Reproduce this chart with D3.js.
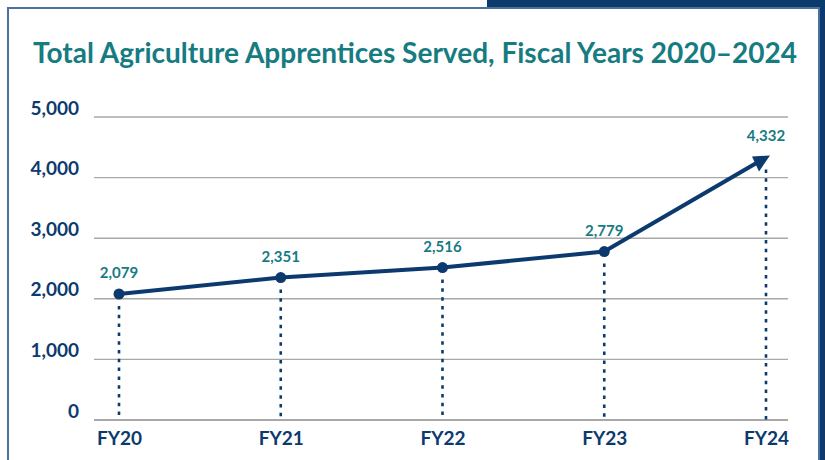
<!DOCTYPE html>
<html>
<head>
<meta charset="utf-8">
<script src="https://cdn.jsdelivr.net/npm/d3@7"></script>
<style>
  body { margin: 0; background: #fff; }
  text { font-family: "Source Sans Pro", Lato, "Noto Sans", sans-serif; }
</style>
</head>
<body>
<div id="chart"></div>
<script>
// data
var years = ["FY20", "FY21", "FY22", "FY23", "FY24"];
var apprentices = [2079, 2351, 2516, 2779, 4332];
var yTicks = [0, 1000, 2000, 3000, 4000, 5000];
var title = "Total Agriculture Apprentices Served, Fiscal Years 2020\u20132024";

const width = 825;
const height = 460;
var navy = "#0c3a6e";
var teal = "#177b82";
var gridColor = "#a8a8a8";

var svg = d3.select("#chart").append("svg")
  .attr("width", width)
  .attr("height", height);

/* frame */
svg.append("rect")
  .attr("x", 487).attr("y", 0)
  .attr("width", width - 487).attr("height", height)
  .attr("fill", "#0d3a6d");

svg.append("rect")
  .attr("x", 8).attr("y", 8)
  .attr("width", 811).attr("height", 470)
  .attr("fill", "#fff")
  .attr("stroke", "#4b719e")
  .attr("stroke-width", 2);

/* title, squeezed to the width it takes in the original */
var titleText = svg.append("text")
  .attr("x", 415)
  .attr("y", 63)
  .attr("text-anchor", "middle")
  .attr("fill", teal)
  .style("font-weight", 700)
  .style("font-size", "24px")
  .text(title);
var tw = titleText.node().getComputedTextLength();
titleText.style("font-size", (24 * 764 / tw).toFixed(2) + "px");

/* scales */
var x = d3.scalePoint()
  .domain(years)
  .range([119, 766]);

var y = d3.scaleLinear()
  .domain([0, 5000])
  .range([420, 117]);

/* gridlines */
svg.append("g")
  .attr("class", "grid")
  .selectAll("line")
  .data(yTicks).enter()
  .append("line")
  .attr("x1", 94)
  .attr("x2", 788)
  .attr("y1", d => y(d))
  .attr("y2", d => y(d))
  .attr("stroke", gridColor)
  .attr("stroke-width", d => d === 0 ? 2 : 1.4);

/* y axis labels */
var yAxis = d3.axisLeft(y)
  .tickValues(yTicks)
  .tickFormat(d3.format(","))
  .tickSize(0)
  .tickPadding(0);

var yg = svg.append("g")
  .attr("class", "y axis")
  .attr("transform", "translate(79,0)")
  .call(yAxis);
yg.select(".domain").remove();
yg.selectAll("text")
  .attr("dy", "-0.15em")
  .attr("fill", navy)
  .style("font-size", "19px")
  .style("font-weight", 700);

/* x axis labels */
var xAxis = d3.axisBottom(x).tickSize(0).tickPadding(0);
var xg = svg.append("g")
  .attr("class", "x axis")
  .attr("transform", "translate(0,431)")
  .call(xAxis);
xg.select(".domain").remove();
xg.selectAll("text")
  .attr("dy", "0.71em")
  .attr("fill", navy)
  .style("font-size", "19px")
  .style("font-weight", 700);

var points = years.map((d, i) => ({ year: d, value: apprentices[i] }));

/* dotted drop lines */
svg.append("g")
  .selectAll("line")
  .data(points).enter()
  .append("line")
  .attr("x1", d => x(d.year))
  .attr("x2", d => x(d.year))
  .attr("y1", d => y(d.value) + 12)
  .attr("y2", y(0))
  .attr("stroke", navy)
  .attr("stroke-width", 2.6)
  .attr("stroke-dasharray", "3.5,5.3");

/* the line */
var line = d3.line()
  .x(d => x(d.year))
  .y(d => y(d.value));

svg.append("path")
  .datum(points)
  .attr("d", line)
  .attr("fill", "none")
  .attr("stroke", navy)
  .attr("stroke-width", 4)
  .attr("stroke-linejoin", "round");

/* round markers, arrow head on the last point */
svg.append("g")
  .selectAll("circle")
  .data(points.slice(0, -1)).enter()
  .append("circle")
  .attr("cx", d => x(d.year))
  .attr("cy", d => y(d.value))
  .attr("r", 5.5)
  .attr("fill", navy);

var last = points[points.length - 1];
svg.append("path")
  .attr("transform", `translate(${x(last.year)},${y(last.value)})`)
  .attr("d", "M-14,-1L4,-2L-7,14Z")
  .attr("fill", navy);

/* value labels */
svg.append("g")
  .selectAll("text")
  .data(points).enter()
  .append("text")
  .attr("x", d => x(d.year))
  .attr("y", d => y(d.value) - 16)
  .attr("text-anchor", "middle")
  .attr("fill", teal)
  .style("font-size", "15px")
  .style("font-weight", 700)
  .text(d => d3.format(",")(d.value));
</script>
</body>
</html>
